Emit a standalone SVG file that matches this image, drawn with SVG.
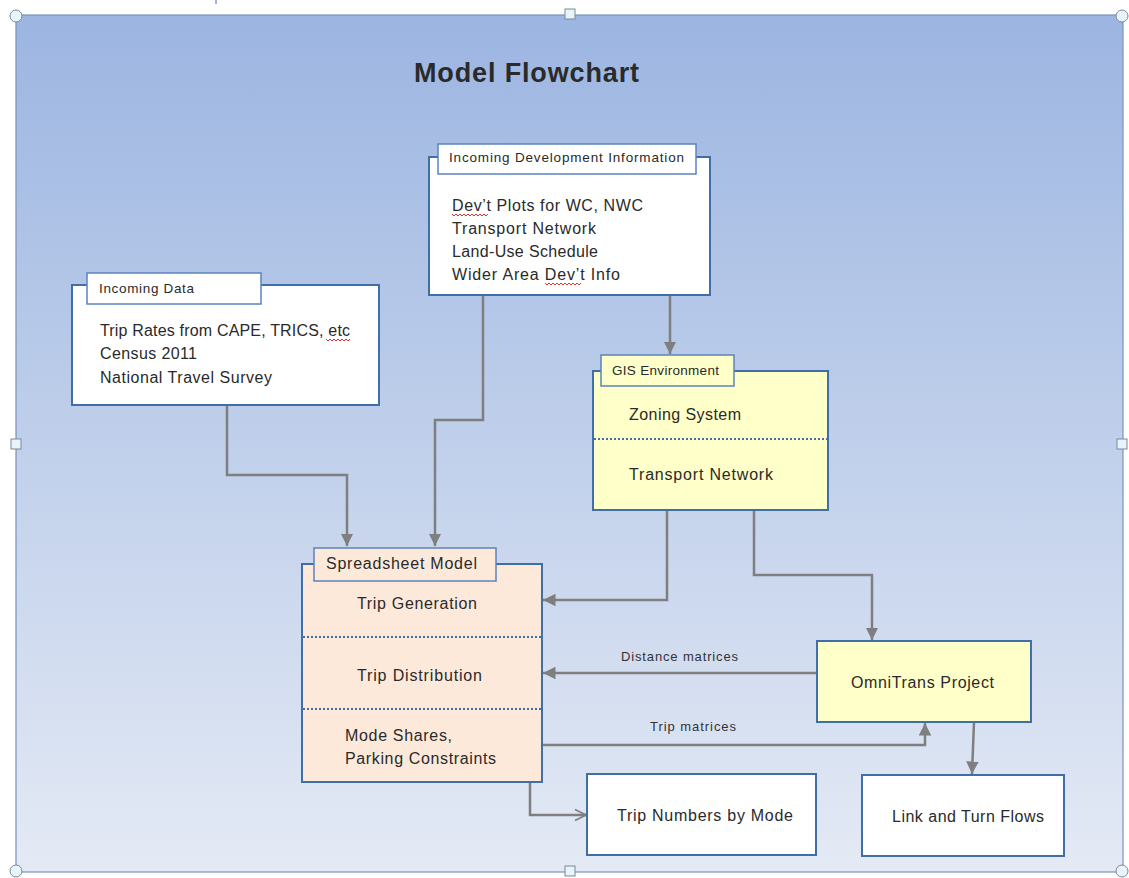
<svg xmlns="http://www.w3.org/2000/svg" width="1129" height="878" viewBox="0 0 1129 878">
<defs>
<linearGradient id="bg" x1="0" y1="0" x2="0" y2="1">
<stop offset="0" stop-color="#9cb5e1"/>
<stop offset="1" stop-color="#e4eaf5"/>
</linearGradient>
<marker id="ah" viewBox="0 0 10 10" refX="10" refY="5" markerWidth="5" markerHeight="5" orient="auto" markerUnits="strokeWidth">
<path d="M0,0 L10,5 L0,10 z" fill="#7f7f7f"/>
</marker>
<marker id="oh" viewBox="0 0 10 10" refX="9" refY="5" markerWidth="5.5" markerHeight="5.5" orient="auto" markerUnits="strokeWidth">
<path d="M1,1 L9,5 L1,9" fill="none" stroke="#7f7f7f" stroke-width="1.2"/>
</marker>
</defs>
<style>
.box{stroke:#3f6ea8;stroke-width:2}
.tab{stroke:#5b84bb;stroke-width:1.5}
.t{font-family:"Liberation Sans",Arial,sans-serif;fill:#2a2a2a}
.body{font-size:16px}
.hdr{font-size:13.5px}
.lbl{font-size:13px;fill:#333}
.con{fill:none;stroke:#7f7f7f;stroke-width:2.5}
.dot{stroke:#3f6ea8;stroke-width:2;stroke-dasharray:2 2}
.sq{fill:none;stroke:#e03030;stroke-width:1}
.h{fill:#e8f4fa;stroke:#7a8a99;stroke-width:1}
</style>
<rect x="0" y="0" width="1129" height="878" fill="#ffffff"/>
<line x1="216" y1="0" x2="216" y2="4" stroke="#3f6ea8" stroke-width="1"/>
<rect x="16" y="15" width="1107" height="857" fill="url(#bg)" stroke="#7a93b8" stroke-width="1.2"/>
<text class="t" x="414" y="82" font-size="27" font-weight="bold" fill="#111" textLength="225">Model Flowchart</text>

<g id="connectors">
<polyline class="con" points="227,405 227,475 347,475 347,546" marker-end="url(#ah)"/>
<polyline class="con" points="483,295 483,420 435,420 435,546" marker-end="url(#ah)"/>
<polyline class="con" points="670,295 670,354" marker-end="url(#ah)"/>
<polyline class="con" points="667,510 667,600 543,600" marker-end="url(#ah)"/>
<polyline class="con" points="754,510 754,575 872,575 872,640" marker-end="url(#ah)"/>
<polyline class="con" points="817,673 543,673" marker-end="url(#ah)"/>
<polyline class="con" points="542,745 925,745 925,723" marker-end="url(#ah)"/>
<polyline class="con" points="530,782 530,815 586,815" marker-end="url(#oh)"/>
<polyline class="con" points="974,722 972,774" marker-end="url(#ah)"/>
<text class="t lbl" x="621" y="661" textLength="117">Distance matrices</text>
<text class="t lbl" x="650" y="731" textLength="86">Trip matrices</text>
</g>

<g id="incoming-development">
<rect class="box" x="429" y="157" width="281" height="138" fill="#ffffff"/>
<rect class="tab" x="438" y="144" width="258" height="30" fill="#ffffff"/>
<text class="t hdr" x="449" y="162" textLength="235">Incoming Development Information</text>
<text class="t body" x="452" y="211" textLength="191">Dev’t Plots for WC, NWC</text>
<text class="t body" x="452" y="234" textLength="144">Transport Network</text>
<text class="t body" x="452" y="257" textLength="146">Land-Use Schedule</text>
<text class="t body" x="452" y="280" textLength="168">Wider Area Dev’t Info</text>
<path class="sq" d="M452,214 l2,2 l2,-2 l2,2 l2,-2 l2,2 l2,-2 l2,2 l2,-2 l2,2 l2,-2 l2,2 l2,-2 l2,2 l2,-2 l2,2 l2,-2 l2,2 l2,-2"/>
<path class="sq" d="M545,283 l2,2 l2,-2 l2,2 l2,-2 l2,2 l2,-2 l2,2 l2,-2 l2,2 l2,-2 l2,2 l2,-2 l2,2 l2,-2 l2,2 l2,-2 l2,2 l2,-2"/>
</g>

<g id="incoming-data">
<rect class="box" x="72" y="285" width="307" height="120" fill="#ffffff"/>
<rect class="tab" x="87" y="273" width="174" height="31" fill="#ffffff"/>
<text class="t hdr" x="99" y="293" textLength="95">Incoming Data</text>
<text class="t body" x="100" y="336" textLength="250">Trip Rates from CAPE, TRICS, etc</text>
<text class="t body" x="100" y="359" textLength="97">Census 2011</text>
<text class="t body" x="100" y="383" textLength="172">National Travel Survey</text>
<path class="sq" d="M326,339 l2,2 l2,-2 l2,2 l2,-2 l2,2 l2,-2 l2,2 l2,-2 l2,2 l2,-2 l2,2 l2,-2"/>
</g>

<g id="gis-environment">
<rect class="box" x="593" y="371" width="235" height="139" fill="#ffffc9"/>
<rect class="tab" x="601" y="355" width="133" height="31" fill="#ffffc9"/>
<text class="t hdr" x="612" y="375" textLength="107">GIS Environment</text>
<text class="t body" x="629" y="420" textLength="112">Zoning System</text>
<line class="dot" x1="594" y1="439" x2="827" y2="439"/>
<text class="t body" x="629" y="480" textLength="144">Transport Network</text>
</g>

<g id="spreadsheet-model">
<rect class="box" x="302" y="564" width="240" height="218" fill="#fde9da"/>
<rect class="tab" x="314" y="548" width="182" height="33" fill="#fde9da"/>
<text class="t body" x="326" y="569" textLength="151">Spreadsheet Model</text>
<text class="t body" x="357" y="609" textLength="120">Trip Generation</text>
<line class="dot" x1="303" y1="637" x2="541" y2="637"/>
<text class="t body" x="357" y="681" textLength="125">Trip Distribution</text>
<line class="dot" x1="303" y1="709" x2="541" y2="709"/>
<text class="t body" x="345" y="741" textLength="107">Mode Shares,</text>
<text class="t body" x="345" y="764" textLength="151">Parking Constraints</text>
</g>

<g id="omnitrans">
<rect class="box" x="817" y="641" width="214" height="81" fill="#ffffc9"/>
<text class="t body" x="851" y="688" textLength="143">OmniTrans Project</text>
</g>

<g id="trip-numbers">
<rect class="box" x="587" y="774" width="229" height="81" fill="#ffffff"/>
<text class="t body" x="617" y="821" textLength="176">Trip Numbers by Mode</text>
</g>

<g id="link-turn">
<rect class="box" x="862" y="775" width="202" height="81" fill="#ffffff"/>
<text class="t body" x="892" y="822" textLength="152">Link and Turn Flows</text>
</g>

<g id="handles">
<circle class="h" cx="16" cy="16" r="6"/>
<circle class="h" cx="1122" cy="16" r="6"/>
<circle class="h" cx="16" cy="871" r="6"/>
<circle class="h" cx="1122" cy="871" r="6"/>
<rect class="h" x="565" y="9" width="10" height="10"/>
<rect class="h" x="11" y="439" width="10" height="10"/>
<rect class="h" x="1117" y="439" width="10" height="10"/>
<rect class="h" x="565" y="866" width="10" height="10"/>
</g>
</svg>
